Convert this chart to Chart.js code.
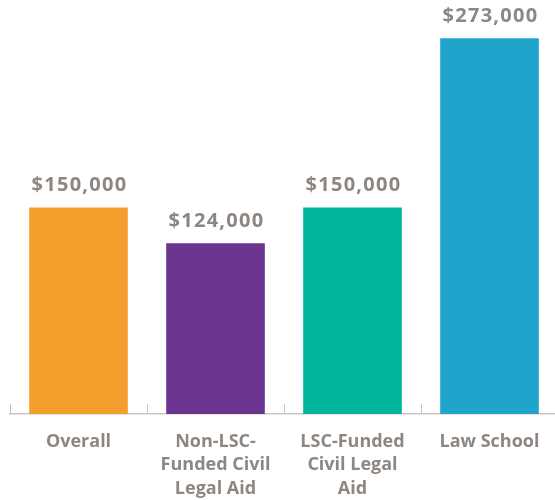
<!DOCTYPE html>
<html>
<head>
<meta charset="utf-8">
<script src="https://cdn.jsdelivr.net/npm/chart.js@4/dist/chart.umd.min.js"></script>
<style>
html,body{margin:0;padding:0;background:#fff;overflow:hidden;width:555px;height:500px;}
#wrap{width:555px;height:500px;overflow:hidden;position:relative;}
canvas{display:block;}
</style>
</head>
<body>
<div id="wrap"><canvas id="c" width="558" height="500"></canvas></div>
<script>
const categories = [["Overall"], ["Non-LSC-", "Funded Civil", "Legal Aid"], ["LSC-Funded", "Civil Legal", "Aid"], ["Law School"]];
const salaries = [150000, 124000, 150000, 273000];
const barColors = ["#F49F2D", "#6C358F", "#00B59B", "#20A4CC"];

const textColor = "#8e8680";
const fontFamily = "'Open Sans', 'Noto Sans', sans-serif";

const valueLabels = {
  id: 'valueLabels',
  afterDatasetsDraw(chart) {
    const ctx = chart.ctx;
    const meta = chart.getDatasetMeta(0);
    ctx.save();
    ctx.fillStyle = textColor;
    ctx.font = "bold 20px " + fontFamily;
    try { ctx.letterSpacing = '1.3px'; } catch (e) {}
    ctx.textAlign = 'center';
    ctx.textBaseline = 'middle';
    meta.data.forEach((bar, i) => {
      const v = chart.data.datasets[0].data[i];
      ctx.fillText('$' + v.toLocaleString('en-US'), bar.x + 1, bar.y - 22);
    });
    ctx.restore();
  }
};

const tickMarks = {
  id: 'tickMarks',
  afterDraw(chart) {
    const x = chart.scales.x;
    const ctx = chart.ctx;
    const half = (x.getPixelForValue(1) - x.getPixelForValue(0)) / 2;
    const bottom = chart.chartArea.bottom;
    ctx.save();
    ctx.strokeStyle = '#cbc6c2';
    ctx.lineWidth = 1;
    for (let i = 0; i <= categories.length; i++) {
      const px = Math.round(x.getPixelForValue(i) - half) + 0.5;
      ctx.beginPath();
      ctx.moveTo(px, bottom - 10);
      ctx.lineTo(px, bottom);
      ctx.stroke();
    }
    ctx.restore();
  }
};

new Chart(document.getElementById('c'), {
  type: 'bar',
  data: {
    labels: categories,
    datasets: [{
      data: salaries,
      backgroundColor: barColors,
      borderWidth: 0,
      barPercentage: 0.8,
      categoryPercentage: 0.9
    }]
  },
  options: {
    responsive: false,
    animation: false,
    layout: { padding: { left: 10, right: 0, top: 1, bottom: 2 } },
    plugins: { legend: { display: false }, tooltip: { enabled: false } },
    scales: {
      x: {
        afterFit(scale) { scale.height = 84; },
        grid: { display: false, drawTicks: false },
        border: { display: true, color: '#cbc6c2', width: 1.5 },
        ticks: {
          color: textColor,
          padding: 16,
          maxRotation: 0,
          autoSkip: false,
          font: { family: fontFamily, size: 18, weight: 'bold', lineHeight: 1.3 }
        }
      },
      y: {
        display: false,
        min: 0,
        max: 300000
      }
    }
  },
  plugins: [valueLabels, tickMarks]
});
</script>
</body>
</html>
